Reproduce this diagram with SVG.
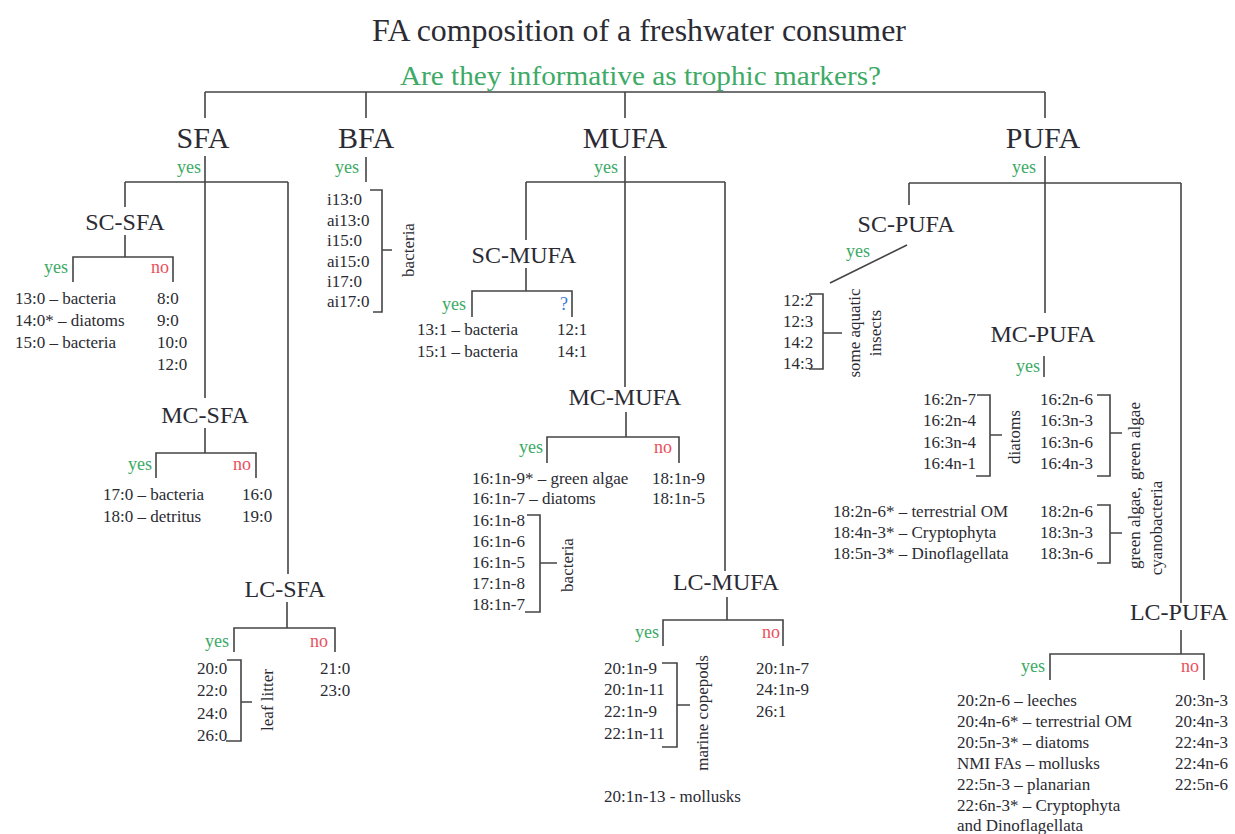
<svg xmlns="http://www.w3.org/2000/svg" width="1235" height="834" viewBox="0 0 1235 834">
<style>
text{font-family:"Liberation Serif","Times New Roman",serif;fill:#2b2b33}
.t{font-size:31px}
.q{font-size:27px;fill:#3daa66}
.m{font-size:30px;text-anchor:middle}
.s{font-size:24px;text-anchor:middle}
.y{font-size:18px;fill:#3daa66;text-anchor:end}
.n{font-size:18px;fill:#e8505b;text-anchor:end}
.u{font-size:18px;fill:#3b7dd8;text-anchor:end}
.l{font-size:17px}
.r{font-size:17px;text-anchor:middle}
.c path,.c line{stroke:#444;stroke-width:1.6;fill:none}
</style>
<rect width="1235" height="834" fill="#fff"/>
<g id="title">
<text class="t" x="372" y="41" textLength="534" lengthAdjust="spacingAndGlyphs">FA composition of a freshwater consumer</text>
<text class="q" x="400" y="85" textLength="481" lengthAdjust="spacingAndGlyphs">Are they informative as trophic markers?</text>
</g>
<g class="c" id="connectors">
<path d="M205,92 H1045 M205,92 V118 M366,92 V118 M625,92 V118 M1045,92 V118"/>
<path d="M205,156 V398 M125,182 H288 M125,182 V207 M125,235 V257 M288,182 V574"/>
<path d="M73,282 V257 H173 V282"/>
<path d="M205,428 V453 M156,478 V453 H256 V478"/>
<path d="M287,602 V628 M234,652 V628 H335 V652"/>
<path d="M366,157 V182"/>
<path d="M625,156 V387 M526,182 H725 M526,182 V240 M526,268 V291 M725,182 V571"/>
<path d="M472,317 V291 H572 V317"/>
<path d="M626,412 V437 M547,463 V437 H679 V463"/>
<path d="M727,597 V620 M663,646 V620 H783 V646"/>
<path d="M1045,156 V313 M909,183 H1181 M909,183 V205 M1181,183 V603"/>
<path d="M907,245 L830,283"/>
<path d="M1044,356 V377"/>
<path d="M1181,630 V654 M1050,680 V654 H1204 V680"/>
<path d="M227,660 H241 V741 H226 M241,702 H252"/>
<path d="M370,190 H382 V312 H373 M382,250 H392"/>
<path d="M527,515 H540 V612 H525 M540,563 H557"/>
<path d="M662,663 H677 V747 H662 M677,705 H690"/>
<path d="M809,294 H823 V369 H809 M823,333 H842"/>
<path d="M977,395 H990 V476 H976 M990,435 H1002"/>
<path d="M1097,395 H1110 V476 H1097 M1110,433 H1122"/>
<path d="M1097,505 H1110 V563 H1097 M1110,533 H1122"/>
</g>
<g id="SFA">
<text class="m" x="203" y="148">SFA</text>
<text class="y" x="201" y="173">yes</text>
</g>
<g id="SC-SFA">
<text class="s" x="125" y="230">SC-SFA</text>
<text class="y" x="68" y="273">yes</text>
<text class="n" x="169" y="273">no</text>
<text class="l" x="15" y="304">13:0 – bacteria</text>
<text class="l" x="15" y="326">14:0* – diatoms</text>
<text class="l" x="15" y="348">15:0 – bacteria</text>
<text class="l" x="157" y="304">8:0</text>
<text class="l" x="157" y="326">9:0</text>
<text class="l" x="157" y="348">10:0</text>
<text class="l" x="157" y="370">12:0</text>
</g>
<g id="MC-SFA">
<text class="s" x="205" y="423">MC-SFA</text>
<text class="y" x="152" y="470">yes</text>
<text class="n" x="251" y="470">no</text>
<text class="l" x="103" y="500">17:0 – bacteria</text>
<text class="l" x="103" y="522">18:0 – detritus</text>
<text class="l" x="242" y="500">16:0</text>
<text class="l" x="242" y="522">19:0</text>
</g>
<g id="LC-SFA">
<text class="s" x="285" y="597">LC-SFA</text>
<text class="y" x="229" y="647">yes</text>
<text class="n" x="328" y="647">no</text>
<text class="l" x="197" y="674">20:0</text>
<text class="l" x="197" y="696">22:0</text>
<text class="l" x="197" y="719">24:0</text>
<text class="l" x="197" y="741">26:0</text>
<text class="l" x="320" y="674">21:0</text>
<text class="l" x="320" y="696">23:0</text>
<text class="r" transform="translate(273,700) rotate(-90)">leaf litter</text>
</g>
<g id="BFA">
<text class="m" x="366" y="148">BFA</text>
<text class="y" x="359" y="173">yes</text>
<text class="l" x="327" y="205">i13:0</text>
<text class="l" x="327" y="226">ai13:0</text>
<text class="l" x="327" y="246">i15:0</text>
<text class="l" x="327" y="267">ai15:0</text>
<text class="l" x="327" y="287">i17:0</text>
<text class="l" x="327" y="307">ai17:0</text>
<text class="r" transform="translate(414,250) rotate(-90)">bacteria</text>
</g>
<g id="MUFA">
<text class="m" x="625" y="148">MUFA</text>
<text class="y" x="618" y="173">yes</text>
</g>
<g id="SC-MUFA">
<text class="s" x="524" y="263">SC-MUFA</text>
<text class="y" x="466" y="310">yes</text>
<text class="u" x="568" y="310">?</text>
<text class="l" x="417" y="335">13:1 – bacteria</text>
<text class="l" x="417" y="357">15:1 – bacteria</text>
<text class="l" x="557" y="335">12:1</text>
<text class="l" x="557" y="357">14:1</text>
</g>
<g id="MC-MUFA">
<text class="s" x="625" y="405">MC-MUFA</text>
<text class="y" x="543" y="453">yes</text>
<text class="n" x="672" y="453">no</text>
<text class="l" x="472" y="484">16:1n-9* – green algae</text>
<text class="l" x="472" y="504">16:1n-7 – diatoms</text>
<text class="l" x="472" y="526">16:1n-8</text>
<text class="l" x="472" y="547">16:1n-6</text>
<text class="l" x="472" y="568">16:1n-5</text>
<text class="l" x="472" y="589">17:1n-8</text>
<text class="l" x="472" y="610">18:1n-7</text>
<text class="l" x="652" y="484">18:1n-9</text>
<text class="l" x="652" y="504">18:1n-5</text>
<text class="r" transform="translate(573,565) rotate(-90)">bacteria</text>
</g>
<g id="LC-MUFA">
<text class="s" x="726" y="590">LC-MUFA</text>
<text class="y" x="659" y="638">yes</text>
<text class="n" x="780" y="638">no</text>
<text class="l" x="604" y="674">20:1n-9</text>
<text class="l" x="604" y="695">20:1n-11</text>
<text class="l" x="604" y="717">22:1n-9</text>
<text class="l" x="604" y="739">22:1n-11</text>
<text class="l" x="604" y="802">20:1n-13 - mollusks</text>
<text class="l" x="756" y="674">20:1n-7</text>
<text class="l" x="756" y="695">24:1n-9</text>
<text class="l" x="756" y="717">26:1</text>
<text class="r" transform="translate(708,713) rotate(-90)">marine copepods</text>
</g>
<g id="PUFA">
<text class="m" x="1043" y="148">PUFA</text>
<text class="y" x="1036" y="173">yes</text>
</g>
<g id="SC-PUFA">
<text class="s" x="906" y="232">SC-PUFA</text>
<text class="y" x="870" y="257">yes</text>
<text class="l" x="783" y="306">12:2</text>
<text class="l" x="783" y="327">12:3</text>
<text class="l" x="783" y="348">14:2</text>
<text class="l" x="783" y="369">14:3</text>
<text class="r" transform="translate(860,333) rotate(-90)">some aquatic</text>
<text class="r" transform="translate(881,333) rotate(-90)">insects</text>
</g>
<g id="MC-PUFA">
<text class="s" x="1043" y="342">MC-PUFA</text>
<text class="y" x="1040" y="372">yes</text>
<text class="l" x="923" y="405">16:2n-7</text>
<text class="l" x="923" y="426">16:2n-4</text>
<text class="l" x="923" y="448">16:3n-4</text>
<text class="l" x="923" y="469">16:4n-1</text>
<text class="l" x="1040" y="405">16:2n-6</text>
<text class="l" x="1040" y="426">16:3n-3</text>
<text class="l" x="1040" y="448">16:3n-6</text>
<text class="l" x="1040" y="469">16:4n-3</text>
<text class="l" x="833" y="517">18:2n-6* – terrestrial OM</text>
<text class="l" x="833" y="538">18:4n-3* – Cryptophyta</text>
<text class="l" x="833" y="559">18:5n-3* – Dinoflagellata</text>
<text class="l" x="1040" y="517">18:2n-6</text>
<text class="l" x="1040" y="538">18:3n-3</text>
<text class="l" x="1040" y="559">18:3n-6</text>
<text class="r" transform="translate(1020,437) rotate(-90)">diatoms</text>
<text class="r" transform="translate(1140,441) rotate(-90)">green algae</text>
<text class="r" transform="translate(1140,528) rotate(-90)">green algae,</text>
<text class="r" transform="translate(1162,528) rotate(-90)">cyanobacteria</text>
</g>
<g id="LC-PUFA">
<text class="s" x="1179" y="620">LC-PUFA</text>
<text class="y" x="1045" y="672">yes</text>
<text class="n" x="1199" y="672">no</text>
<text class="l" x="957" y="706">20:2n-6 – leeches</text>
<text class="l" x="957" y="727">20:4n-6* – terrestrial OM</text>
<text class="l" x="957" y="748">20:5n-3* – diatoms</text>
<text class="l" x="957" y="769">NMI FAs – mollusks</text>
<text class="l" x="957" y="790">22:5n-3 – planarian</text>
<text class="l" x="957" y="811">22:6n-3* – Cryptophyta</text>
<text class="l" x="957" y="831">and Dinoflagellata</text>
<text class="l" x="1175" y="706">20:3n-3</text>
<text class="l" x="1175" y="727">20:4n-3</text>
<text class="l" x="1175" y="748">22:4n-3</text>
<text class="l" x="1175" y="769">22:4n-6</text>
<text class="l" x="1175" y="790">22:5n-6</text>
</g>
</svg>
